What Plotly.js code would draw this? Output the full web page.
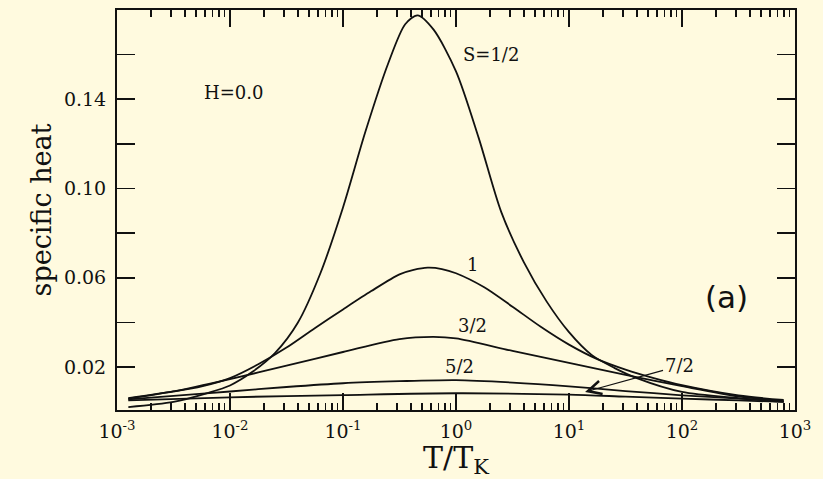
<!DOCTYPE html>
<html>
<head>
<meta charset="utf-8">
<script src="https://cdn.plot.ly/plotly-3.0.1.min.js"></script>
<style>html,body{margin:0;padding:0;background:#fffadf;}</style>
</head>
<body>
<div id="chart" style="width:823px;height:479px;"></div>
<script>
// T/T_K values and specific heat for each spin S
const T_half = [0.00126, 0.00316, 0.00631, 0.01, 0.0158, 0.0251, 0.0398, 0.0631, 0.1, 0.158, 0.251, 0.355, 0.457, 0.631, 1.0, 1.585, 2.512, 3.981, 6.31, 10.0, 15.85, 25.12, 39.81, 100, 316.2, 794.3];
const C_half = [0.0020, 0.0043, 0.0083, 0.0117, 0.0178, 0.0263, 0.0398, 0.0620, 0.0915, 0.1255, 0.1560, 0.1736, 0.1776, 0.1713, 0.1525, 0.1228, 0.0895, 0.0670, 0.0495, 0.0356, 0.0254, 0.0196, 0.0150, 0.0088, 0.0060, 0.0043];

const T_one = [0.001259, 0.003162, 0.005623, 0.01, 0.01778, 0.03162, 0.05623, 0.1, 0.1778, 0.3162, 0.4217, 0.5623, 0.7499, 1.0, 1.778, 3.162, 5.623, 10.0, 17.78, 31.62, 56.23, 100, 316.2, 794.3];
const C_one = [0.0060, 0.0090, 0.0113, 0.0150, 0.0212, 0.0287, 0.0374, 0.0458, 0.0540, 0.0615, 0.0635, 0.0645, 0.0639, 0.0620, 0.0557, 0.0470, 0.0380, 0.0300, 0.0235, 0.0188, 0.0150, 0.0118, 0.0072, 0.0052];

const T_3half = [0.001259, 0.003162, 0.01, 0.03162, 0.1, 0.3162, 0.631, 1.0, 3.162, 10.0, 31.62, 100, 316.2, 794.3];
const C_3half = [0.0058, 0.0090, 0.0145, 0.0206, 0.0267, 0.0325, 0.0335, 0.0328, 0.0272, 0.0218, 0.0164, 0.0114, 0.0068, 0.0047];

const T_5half = [0.001259, 0.003162, 0.01, 0.03162, 0.1, 0.3162, 1.0, 3.162, 10.0, 31.62, 100, 316.2, 794.3];
const C_5half = [0.0055, 0.0070, 0.0090, 0.0110, 0.0127, 0.0136, 0.0141, 0.0130, 0.0113, 0.0092, 0.0073, 0.0058, 0.0047];

const T_7half = [0.001259, 0.01, 0.1, 1.0, 10.0, 31.62, 100, 316.2, 794.3];
const C_7half = [0.0050, 0.0064, 0.0074, 0.0082, 0.0076, 0.0067, 0.0058, 0.0050, 0.0043];

const xTickVals = [0.001, 0.01, 0.1, 1, 10, 100, 1000];
const xTickText = ['10<sup>-3</sup>', '10<sup>-2</sup>', '10<sup>-1</sup>', '10<sup>0</sup>', '10<sup>1</sup>', '10<sup>2</sup>', '10<sup>3</sup>'];
const yTickVals = [0.02, 0.06, 0.10, 0.14];
const yTickText = ['0.02', '0.06', '0.10', '0.14'];
const yMinorVals = [0.04, 0.08, 0.12, 0.16];

// minor tick positions of the log axis (2..9 in each decade)
const xMinorVals = [];
for (let e = -3; e < 3; e++) {
  for (let m = 2; m <= 9; m++) xMinorVals.push(m * Math.pow(10, e));
}

const lineStyle = {color: '#111', width: 1.8, shape: 'spline', smoothing: 0.8};
const mk = (x, y, name) => ({x: x, y: y, name: name, type: 'scatter', mode: 'lines', line: lineStyle, showlegend: false, hoverinfo: 'skip'});

const data = [
  mk(T_half, C_half, 'S=1/2'),
  mk(T_one, C_one, 'S=1'),
  mk(T_3half, C_3half, 'S=3/2'),
  mk(T_5half, C_5half, 'S=5/2'),
  mk(T_7half, C_7half, 'S=7/2')
];

const serif = 'DejaVu Serif, Liberation Serif, serif';
const ann = (x, y, text, size) => ({x: x, y: y, xref: 'x', yref: 'y', text: text, showarrow: false,
  font: {family: serif, size: size || 18, color: '#111'}});

const layout = {
  width: 823, height: 479,
  margin: {l: 117, r: 28, t: 10, b: 69},
  paper_bgcolor: '#fffadf',
  plot_bgcolor: '#fffadf',
  showlegend: false,
  xaxis: {
    type: 'log', range: [-3, 3],
    tickmode: 'array', tickvals: xTickVals, ticktext: xTickText,
    ticks: 'inside', ticklen: 17, tickwidth: 1.6, tickcolor: '#111',
    minor: {tickmode: 'array', tickvals: xMinorVals, ticks: 'inside', ticklen: 7, tickwidth: 1.2, tickcolor: '#111', showgrid: false},
    showline: true, linecolor: '#111', linewidth: 2, mirror: 'ticks',
    showgrid: false, zeroline: false,
    tickfont: {family: serif, size: 19, color: '#111'},
    ticklabelstandoff: 3,
    title: {text: 'T/T<sub>K</sub>', font: {family: serif, size: 30, color: '#111'}, standoff: 10}
  },
  yaxis: {
    range: [0.0007, 0.18],
    tickmode: 'array', tickvals: yTickVals, ticktext: yTickText,
    ticks: 'inside', ticklen: 18, tickwidth: 1.6, tickcolor: '#111',
    minor: {tickmode: 'array', tickvals: yMinorVals, ticks: 'inside', ticklen: 18, tickwidth: 1.6, tickcolor: '#111', showgrid: false},
    showline: true, linecolor: '#111', linewidth: 2, mirror: 'ticks',
    showgrid: false, zeroline: false,
    tickfont: {family: serif, size: 19, color: '#111'},
    ticklabelstandoff: 5,
    title: {text: 'specific heat', font: {family: serif, size: 27, color: '#111'}, standoff: 4}
  },
  annotations: [
    ann(-1.973, 0.143, 'H=0.0'),
    ann(0.31, 0.160, 'S=1/2'),
    ann(0.142, 0.0658, '1'),
    ann(0.142, 0.0384, '3/2'),
    ann(0.027, 0.020, '5/2'),
    {x: 1.142, y: 0.0088, xref: 'x', yref: 'y', text: '7/2', showarrow: true,
      ax: 94, ay: -26, arrowhead: 5, arrowsize: 2.2, arrowwidth: 1.2, arrowcolor: '#111', standoff: 0,
      font: {family: serif, size: 18, color: '#111'}},
    {x: 2.398, y: 0.0514, xref: 'x', yref: 'y', text: '(a)', showarrow: false,
      font: {family: 'DejaVu Sans, Noto Sans, sans-serif', size: 31, color: '#111'}}
  ]
};

Plotly.newPlot('chart', data, layout, {displayModeBar: false, staticPlot: true});
</script>
</body>
</html>
